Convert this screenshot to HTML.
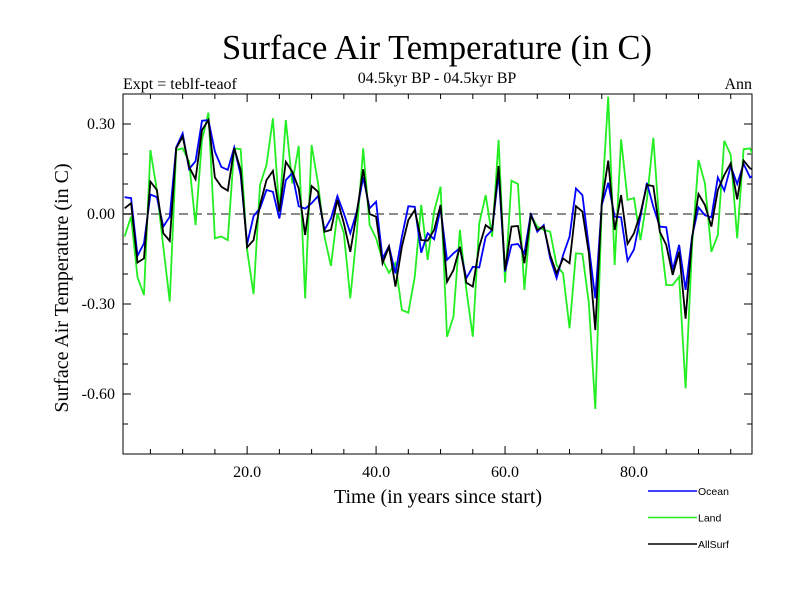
<!DOCTYPE html>
<html><head><meta charset="utf-8"><style>
body{margin:0;background:#fff;}
svg{display:block;}
.serif{font-family:"Liberation Serif",serif;}
.sans{font-family:"Liberation Sans",sans-serif;}
</style></head><body>
<svg id="chart" width="800" height="600" xmlns="http://www.w3.org/2000/svg">
<text class="serif" x="437" y="59" font-size="34.5" text-anchor="middle">Surface Air Temperature (in C)</text>
<text class="serif" x="437" y="83" font-size="16" text-anchor="middle">04.5kyr BP - 04.5kyr BP</text>
<text class="serif" x="123" y="89" font-size="16">Expt = teblf-teaof</text>
<text class="serif" x="752" y="89" font-size="16" text-anchor="end">Ann</text>
<text class="serif" x="438" y="503" font-size="20" text-anchor="middle">Time (in years since start)</text>
<text class="serif" transform="translate(68,288) rotate(-90)" font-size="20" text-anchor="middle">Surface Air Temperature (in C)</text>
<g id="axes"></g>
<g id="series"></g>
<g id="legend"></g>
</svg>
<script>
const years = Array.from({length:99},(_,i)=>i+1);
const ocean = [0.056,0.053,-0.139,-0.098,0.065,0.056,-0.042,-0.009,0.222,0.269,0.150,0.176,0.311,0.313,0.208,0.157,0.147,0.222,0.130,-0.100,-0.007,0.019,0.080,0.074,-0.015,0.113,0.136,
0.026,0.018,0.036,0.060,-0.053,-0.015,0.060,0.002,-0.064,0.008,0.122,0.019,0.041,-0.148,-0.107,-0.198,-0.076,0.026,0.024,-0.129,-0.064,-0.084,0.019,-0.153,-0.131,
-0.114,-0.214,-0.176,-0.178,-0.076,-0.053,0.136,-0.192,-0.103,-0.100,-0.131,0.002,-0.059,-0.037,-0.148,-0.214,-0.137,-0.076,0.085,0.063,-0.109,-0.281,0.030,
0.104,-0.009,-0.011,-0.156,-0.118,-0.009,0.104,0.024,-0.042,-0.044,-0.187,-0.103,-0.253,-0.076,0.022,-0.004,-0.011,0.122,0.078,0.160,0.100,0.167,0.122,0.136];
const land = [-0.075,-0.009,-0.211,-0.270,0.213,0.080,-0.109,-0.292,0.213,0.219,0.174,-0.037,0.247,0.338,-0.081,-0.075,-0.087,0.219,0.216,-0.120,-0.267,0.097,0.163,0.319,0.008,0.313,0.102,
0.227,-0.281,0.230,0.102,-0.076,-0.173,0.002,-0.064,-0.281,-0.064,0.219,-0.037,-0.081,-0.153,-0.196,-0.164,-0.320,-0.329,-0.209,0.030,-0.153,0.008,0.091,-0.409,-0.342,
-0.053,-0.253,-0.409,-0.031,0.063,-0.076,0.247,-0.229,0.111,0.100,-0.253,-0.004,-0.042,-0.053,-0.059,-0.170,-0.198,-0.381,-0.131,-0.133,-0.298,-0.650,0.030,
0.391,-0.170,0.249,0.047,0.053,-0.087,0.047,0.254,-0.053,-0.237,-0.237,-0.209,-0.581,-0.109,0.180,0.102,-0.126,-0.070,0.244,0.197,-0.081,0.216,0.219,0.169];
const allSurf = [0.019,0.036,-0.162,-0.148,0.108,0.080,-0.064,-0.090,0.219,0.258,0.157,0.116,0.280,0.313,0.122,0.091,0.078,0.219,0.147,-0.111,-0.087,0.030,0.113,0.144,0.008,0.174,0.141,
0.085,-0.070,0.093,0.074,-0.059,-0.053,0.047,-0.031,-0.126,0.002,0.149,0.000,-0.009,-0.164,-0.109,-0.242,-0.109,-0.020,0.013,-0.087,-0.089,-0.053,0.030,-0.226,-0.187,
-0.109,-0.229,-0.242,-0.109,-0.037,-0.053,0.160,-0.187,-0.042,-0.040,-0.164,-0.004,-0.053,-0.042,-0.137,-0.198,-0.148,-0.164,0.026,0.008,-0.131,-0.387,0.036,
0.178,-0.053,0.063,-0.100,-0.064,0.002,0.097,0.093,-0.059,-0.103,-0.203,-0.126,-0.349,-0.081,0.067,0.030,-0.042,0.080,0.130,0.169,0.049,0.178,0.152,0.144];
const xTickLabels = ["20.0","40.0","60.0","80.0"];
const xTickValues = [20,40,60,80];
const yTickLabels = ["0.30","0.00","-0.30","-0.60"];
const yTickValues = [0.3,0,-0.3,-0.6];
const seriesNames = ["Ocean","Land","AllSurf"];

const L=123,R=752,T=94,B=454;
const X0=0.75,X1=98.3,Y0=-0.8,Y1=0.4;
const sx=v=>L+(v-X0)/(X1-X0)*(R-L);
const sy=v=>B-(v-Y0)/(Y1-Y0)*(B-T);
const NS="http://www.w3.org/2000/svg";
function mk(tag,attrs,parent){const e=document.createElementNS(NS,tag);for(const k in attrs)e.setAttribute(k,attrs[k]);parent.appendChild(e);return e;}
const svg=document.getElementById('chart');
const defs=mk('defs',{},svg);
const cp=mk('clipPath',{id:'clip'},defs);mk('rect',{x:L,y:T,width:R-L,height:B-T},cp);
const axes=document.getElementById('axes');
const z=mk('line',{x1:L,x2:R,y1:sy(0),y2:sy(0),stroke:'#666','stroke-width':1.5,'stroke-dasharray':'9,5'},axes);


const fr=mk('rect',{x:L,y:T,width:R-L,height:B-T,fill:'none',stroke:'#000','stroke-width':1},axes);


for(let v=5;v<X1;v+=5){const x=sx(v);const len=v%20===0?8:5;
 mk('line',{x1:x,x2:x,y1:B,y2:B-len,stroke:'#000'},axes);mk('line',{x1:x,x2:x,y1:T,y2:T+len,stroke:'#000'},axes);}
xTickValues.forEach((v,i)=>{const t=mk('text',{x:sx(v),y:B+23,'font-size':16,'text-anchor':'middle',class:'serif'},axes);t.textContent=xTickLabels[i];
 
 });
for(let k=-8;k<=4;k++){const v=k/10;const y=sy(v);const len=(k%3===0)?8:5;
 mk('line',{x1:L,x2:L+len,y1:y,y2:y,stroke:'#000'},axes);mk('line',{x1:R,x2:R-len,y1:y,y2:y,stroke:'#000'},axes);}
yTickValues.forEach((v,i)=>{const t=mk('text',{x:L-8,y:sy(v)+5,'font-size':16,'text-anchor':'end',class:'serif'},axes);t.textContent=yTickLabels[i];
 
 });
const sg=document.getElementById('series');sg.setAttribute('clip-path','url(#clip)');
const datasets=[[land,'#22ee22','land-line'],[ocean,'#0000ff','ocean-line'],[allSurf,'#000000','allsurf-line']];
datasets.forEach(([d,c,n])=>{const p=mk('polyline',{points:d.map((v,i)=>sx(years[i])+','+sy(v)).join(' '),fill:'none',stroke:c,'stroke-width':1.8,'stroke-linejoin':'miter'},sg);
 
 });
const lg=document.getElementById('legend');
const lcols=['#0000ff','#22ee22','#000000'];
seriesNames.forEach((n,i)=>{const y=491+i*26.5;
 const g=mk('g',{},lg);
 
 
 mk('line',{x1:648,x2:697,y1:y,y2:y,stroke:lcols[i],'stroke-width':1.5},g);
 const t=mk('text',{x:698,y:y+4,'font-size':10.5,class:'sans'},g);t.textContent=n;});
</script>
</body></html>
